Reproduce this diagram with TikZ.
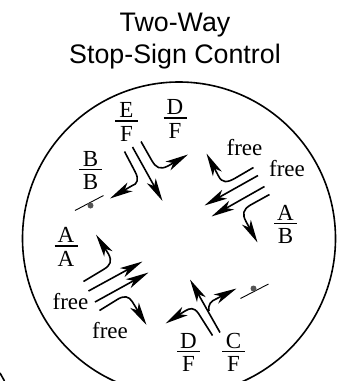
\documentclass[tikz,border=0pt]{standalone}
\usepackage{fontspec}
\setmainfont{Liberation Serif}
\newfontfamily\titlefont{Liberation Sans}
\usetikzlibrary{arrows.meta}
\definecolor{stopdot}{HTML}{555555}

\begin{document}
\begin{tikzpicture}[x=1pt,y=-1pt,>={Stealth[length=23pt,width=10pt,inset=6pt]},
  lanetext/.style={font=\fontsize{23}{25}\selectfont,inner sep=0pt},
  fracbar/.style={line width=1.5pt},
  lane/.style={line width=1.6pt,->},
  stopline/.style={line width=0.9pt},
  stopmark/.style={circle,fill=stopdot,inner sep=0pt,minimum size=6pt}]
  \clip (0,0) rectangle (343,381);
  \node[font=\titlefont\fontsize{26.8}{32.5}\selectfont,align=center,inner sep=0pt,anchor=base] (title) at (175,63.5) {Two-Way\\Stop-Sign Control};
  \node[draw,line width=1.6pt,circle,minimum size=313pt,inner sep=0pt] (ring) at (179,238.5) {};
  \coordinate (nextring-a) at (0,373);
  \coordinate (nextring-b) at (4.5,381);
  \draw[line width=1.6pt] (nextring-a) -- (nextring-b);
  % lane volumes
  \foreach \nm/\x/\y/\up/\lo in {ef/126.5/121/E/F,df/175/118/D/F,bb/90.5/169.5/B/B,ab/285.5/223.5/A/B,aa/66/246/A/A,dg/188.5/351.5/D/F,cf/233.5/351.5/C/F}{
    \node[lanetext,anchor=base] (\nm-up) at (\x,\y-3.5) {\up};
    \node[lanetext,anchor=base] (\nm-lo) at (\x,\y+20) {\lo};
    \draw[fracbar] (\x-11.5,\y) -- (\x+11.5,\y);
  }
  \node[lanetext] (free-ne) at (244.5,148) {free};
  \node[lanetext] (free-e) at (287,169) {free};
  \node[lanetext] (free-w) at (70.5,302) {free};
  \node[lanetext] (free-sw) at (110,331) {free};
  % movement ends
  \foreach \nm/\x/\y in {sa/124.5/151.5,sb/110/198.5,sc/132.5/147,sd/162.5/201,se/141/141.5,sf/188/154.5,
    wa/253.5/167.5,wb/206.5/153.5,wc/258/175.5,wd/204.5/205.5,we/264.5/186.5,wf/211.5/216.5,wg/269.5/194.5,wh/257.5/242.5,
    ea/83.5/281.5,eb/96/234.5,ec/88.5/291,ed/142.5/261.5,ee/95/302,ef/148.5/272.5,eg/99.5/310.5,eh/146.5/325,
    na/212.5/335.5,nb/165.5/323.5,nc/220/332.5,nd/190/279.5,ne/209/311,nf/236.5/288.5}{
    \coordinate (\nm) at (\x,\y);
  }
  % south bound
  \draw[lane] (sa) -- (135,171.5) .. controls (139,179) and (138,184) .. (131.5,186) -- (sb);
  \draw[lane] (sc) -- (sd);
  \draw[lane] (se) -- (151.5,160) .. controls (156,168) and (160,170) .. (168,166) -- (sf);
  % west bound
  \draw[lane] (wa) -- (235.5,178) .. controls (227,183) and (222,183) .. (218.5,176) -- (wb);
  \draw[lane] (wc) -- (wd);
  \draw[lane] (we) -- (wf);
  \draw[lane] (wg) -- (250.5,205) .. controls (243,209.5) and (242,214) .. (246,221.5) -- (wh);
  % east bound
  \draw[lane] (ea) -- (103.5,269.5) .. controls (111,265) and (112,261) .. (108.5,254) -- (eb);
  \draw[lane] (ec) -- (ed);
  \draw[lane] (ee) -- (ef);
  \draw[lane] (eg) -- (116.5,300) .. controls (124,295) and (129,296) .. (132.5,302) -- (eh);
  % north bound
  \draw[lane] (na) -- (198.5,313.5) .. controls (194,307) and (190,308) .. (185,311) -- (nb);
  \draw[lane] (nc) -- (nd);
  \draw[lane] (ne) .. controls (208,304) and (211,301) .. (216,299) -- (nf);
  % stop signs
  \coordinate (stop-wa) at (75,210.5);
  \coordinate (stop-wb) at (103.5,195.5);
  \draw[stopline] (stop-wa) -- (stop-wb);
  \node[stopmark] (stop-w) at (90.5,205.5) {};
  \coordinate (stop-ea) at (240.5,298.5);
  \coordinate (stop-eb) at (268.5,284);
  \draw[stopline] (stop-ea) -- (stop-eb);
  \node[stopmark] (stop-e) at (253.5,288.5) {};
\end{tikzpicture}
\end{document}
